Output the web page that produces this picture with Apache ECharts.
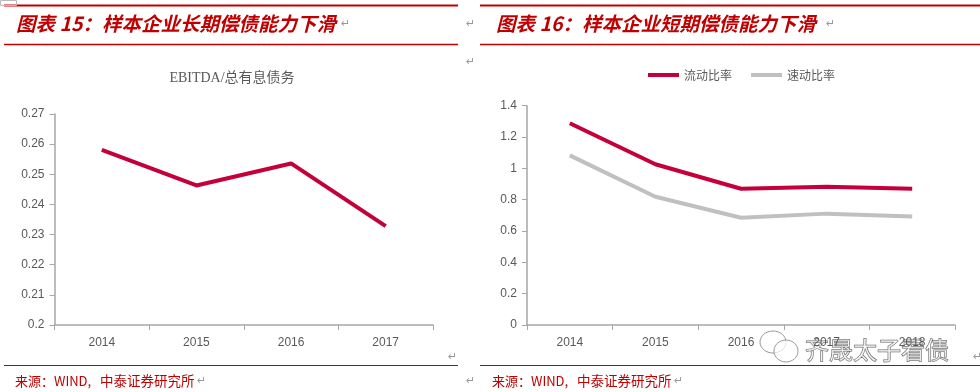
<!DOCTYPE html>
<html><head><meta charset="utf-8">
<script src="https://cdn.jsdelivr.net/npm/echarts@6/dist/echarts.min.js"></script>
<style>html,body{margin:0;padding:0;background:#fff}#c{width:980px;height:392px}</style>
</head><body><div id="c"></div>
<script>
// Left chart: EBITDA / 总有息债务
const leftYears = ['2014', '2015', '2016', '2017'];
const ebitdaDebt = [0.2581, 0.2463, 0.2536, 0.2328];
const leftTicks = { min: 0.2, max: 0.27, interval: 0.01 };

// Right chart: 流动比率 / 速动比率
const rightYears = ['2014', '2015', '2016', '2017', '2018'];
const currentRatio = [1.288, 1.026, 0.870, 0.882, 0.870];
const quickRatio = [1.083, 0.819, 0.685, 0.711, 0.692];
const rightTicks = { min: 0, max: 1.4, interval: 0.2 };

const leftTitle = '图表 15：样本企业长期偿债能力下滑';
const rightTitle = '图表 16：样本企业短期偿债能力下滑';
const subTitle = 'EBITDA/总有息债务';
const sourceA = '来源：WIND,';
const sourceB = '中泰证券研究所';
const watermark = '齐晟太子看债';

const RED = '#C4003A', GRAY = '#C0C0C0', AX = '#A6A6A6', TXT = '#595959', TRED = '#C00000';
const labelFont = { color: TXT, fontFamily: 'Liberation Sans, Arial', fontSize: 12 };

function hline(x1, x2, y, w) {
  return { type: 'line', shape: { x1: x1, y1: y, x2: x2, y2: y }, style: { stroke: TRED, lineWidth: w } };
}
function txt(x, y, text, style) {
  return { type: 'text', x: x, y: y, style: Object.assign({ text: text, verticalAlign: 'middle' }, style) };
}
const mark = { fill: '#999', fontSize: 11, fontFamily: 'DejaVu Sans' };
const srcFont = '13px "Noto Sans CJK SC"';
const srcFontB = '13.5px "Noto Sans CJK SC"';
const titleFont = 'italic bold 19.5px "Noto Sans CJK SC"';

const chart = echarts.init(document.getElementById('c'), null, { renderer: 'canvas' });
chart.setOption({
  animation: false,
  backgroundColor: '#fff',
  grid: [
    { left: 54.5, top: 114, right: 547, bottom: 67 },
    { left: 527, top: 105.7, right: 25, bottom: 67 }
  ],
  legend: {
    left: 643, top: 64, itemWidth: 31, itemHeight: 4, itemGap: 19,
    icon: 'rect',
    textStyle: { color: TXT, fontFamily: 'Noto Sans CJK SC', fontSize: 12 },
    data: ['流动比率', '速动比率']
  },
  xAxis: [0, 1].map(i => ({
    type: 'category', gridIndex: i, data: i === 0 ? leftYears : rightYears,
    boundaryGap: true,
    axisLine: { lineStyle: { color: AX, width: 1.5 } },
    axisTick: { show: true, length: 5, lineStyle: { color: AX } },
    axisLabel: Object.assign({ margin: 12 }, labelFont),
    splitLine: { show: false }
  })),
  yAxis: [
    Object.assign({ type: 'value', gridIndex: 0 }, leftTicks),
    Object.assign({ type: 'value', gridIndex: 1 }, rightTicks)
  ].map(a => Object.assign(a, {
    axisLine: { show: true, lineStyle: { color: AX, width: 1.5 } },
    axisTick: { show: true, length: 5, lineStyle: { color: AX } },
    axisLabel: Object.assign({ margin: 10 }, labelFont),
    splitLine: { show: false }
  })),
  series: [
    { type: 'line', xAxisIndex: 0, yAxisIndex: 0, data: ebitdaDebt, symbol: 'none',
      lineStyle: { color: RED, width: 4 }, itemStyle: { color: RED } },
    { name: '流动比率', type: 'line', xAxisIndex: 1, yAxisIndex: 1, data: currentRatio, symbol: 'none',
      lineStyle: { color: RED, width: 4 }, itemStyle: { color: RED } },
    { name: '速动比率', type: 'line', xAxisIndex: 1, yAxisIndex: 1, data: quickRatio, symbol: 'none',
      lineStyle: { color: GRAY, width: 4 }, itemStyle: { color: GRAY } }
  ],
  graphic: [
    hline(4, 458, 5.5, 2), hline(4, 458, 44.5, 1.5),
    hline(480, 980, 5.5, 2), hline(480, 980, 44.5, 1.5),
    hline(4, 458, 365.5, 1.2), hline(480, 980, 365.5, 1.2),
    { type: 'rect', shape: { x: 0.5, y: 0.5, width: 16, height: 5 }, style: { fill: 'none', stroke: '#bbb', lineWidth: 1 } },
    txt(16, 24, leftTitle, { fill: TRED, font: titleFont }),
    txt(496, 24, rightTitle, { fill: TRED, font: titleFont }),
    txt(232, 78, subTitle, { fill: TXT, font: '14px "Liberation Serif", "Noto Sans CJK SC"', align: 'center' }),
    txt(15, 381, sourceA, { fill: TRED, font: srcFont }),
    txt(100, 381, sourceB, { fill: TRED, font: srcFontB }),
    txt(492, 381, sourceA, { fill: TRED, font: srcFont }),
    txt(577, 381, sourceB, { fill: TRED, font: srcFontB }),
    txt(341, 24, '↵', mark),
    txt(826, 24, '↵', mark),
    txt(466, 24, '↵', mark),
    txt(466, 62, '↵', mark),
    txt(448, 357, '↵', mark),
    txt(466, 381, '↵', mark),
    txt(197, 381, '↵', mark),
    txt(674, 381, '↵', mark),
    txt(973, 357, '↵', mark),
    { type: 'ellipse', shape: { cx: 773, cy: 342, rx: 13, ry: 11 }, style: { fill: 'rgba(255,255,255,0.6)', stroke: '#999', lineWidth: 1 } },
    { type: 'ellipse', shape: { cx: 786, cy: 351, rx: 12, ry: 11 }, style: { fill: 'rgba(255,255,255,0.7)', stroke: '#999', lineWidth: 1 } },
    txt(805, 350, watermark, { fill: 'rgba(255,255,255,0.6)', stroke: '#666', lineWidth: 1, font: '24px "Noto Sans CJK SC"' })
  ]
});
</script></body></html>
